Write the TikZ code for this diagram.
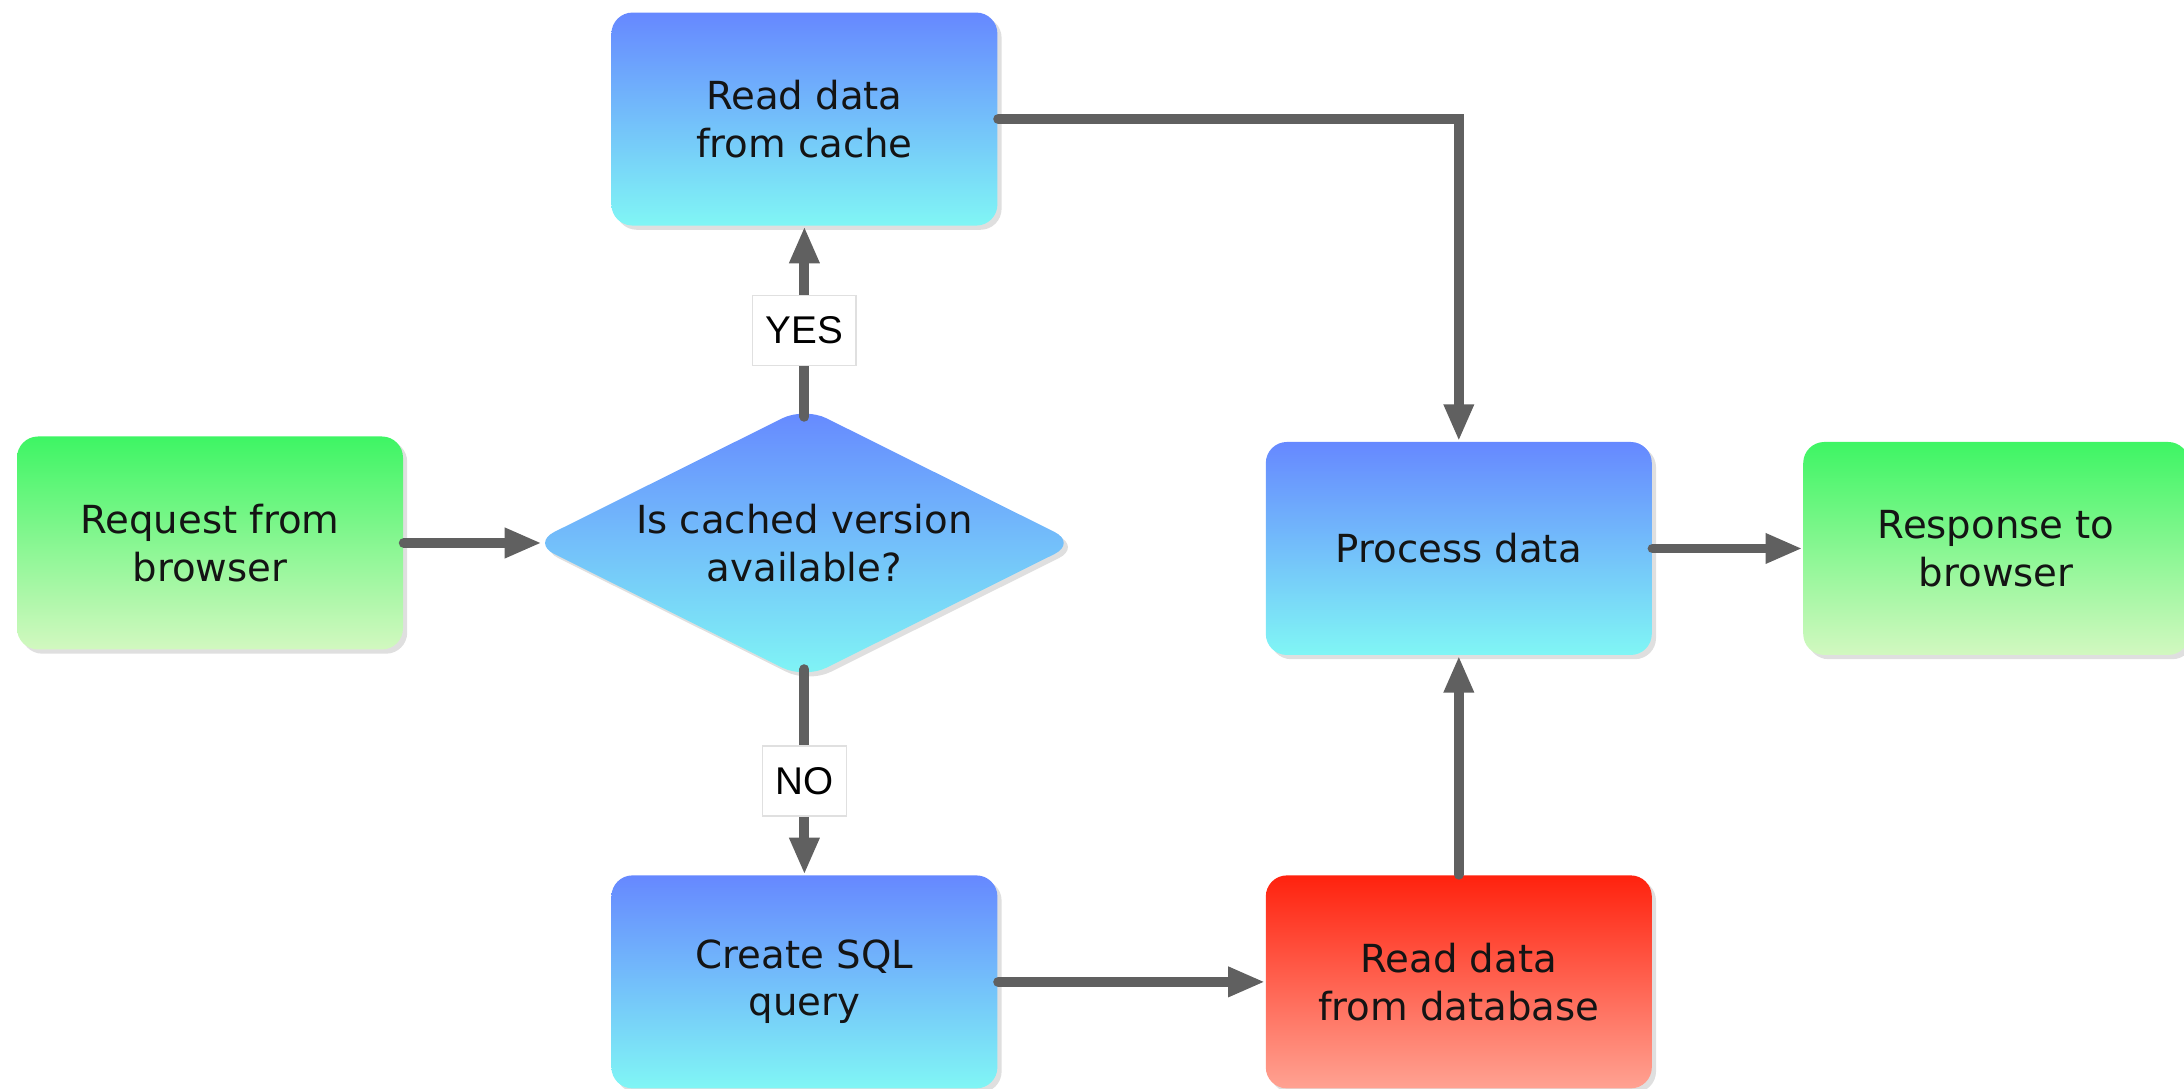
\documentclass[tikz,border=0pt]{standalone}
\usepackage{fontspec}
\setmainfont{DejaVu Sans}
\newfontfamily\labelfont{Liberation Sans}
\usetikzlibrary{positioning}
\usetikzlibrary{arrows.meta}
\usetikzlibrary{calc, shapes, shadows}
\definecolor{blueTop}{RGB}{102,136,255}
\definecolor{blueBottom}{RGB}{128,246,245}
\definecolor{greenTop}{RGB}{62,245,100}
\definecolor{greenBottom}{RGB}{210,248,192}
\definecolor{redTop}{RGB}{255,34,14}
\definecolor{redBottom}{RGB}{255,162,146}
\definecolor{lineGray}{RGB}{96,96,96}
\definecolor{textDark}{RGB}{20,20,20}
\tikzset{%
	% Specifications for style of nodes:
	base/.style = {rectangle, rounded corners=6pt, draw=none,
		minimum width=3.86cm, minimum height=2.13cm,
		align=center, text=textDark, font=\fontsize{11}{13.5}\selectfont,
		drop shadow={opacity=0.25, shadow xshift=1.2pt, shadow yshift=-1.2pt}},
	activityEnds/.style = {base, top color=greenTop, bottom color=greenBottom},
	activityRuns/.style = {base, top color=blueTop, bottom color=blueBottom},
	activityDb/.style = {base, top color=redTop, bottom color=redBottom},
	decision/.style = {base, diamond, aspect=2, rounded corners=7pt,
		minimum width=5.45cm, minimum height=2.72cm, inner sep=0pt,
		top color=blueTop, bottom color=blueBottom},
	answer/.style = {rectangle, fill=white, draw=black!12, line width=0.4pt,
		minimum height=0.7cm, inner xsep=0.13cm, font=\labelfont\fontsize{11}{13}\selectfont},
	flow/.style = {draw=lineGray, line width=2.8pt, line cap=round,
		-{Triangle[length=3.7mm, width=2.8mm]}},
}

\begin{document}
\begin{tikzpicture}
\useasboundingbox (0,0) rectangle (21.84,10.89);

\node (request) [activityEnds] at (2.10,5.46) {Request from\\browser};
\node (cached) [decision, right=1.275cm of request] {Is cached version\\available?};
\node (cache) [activityRuns, above=1.80cm of cached] {Read data\\from cache};
\node (sql) [activityRuns, below=1.95cm of cached] {Create SQL\\query};
\node (database) [activityDb, right=2.67cm of sql] {Read data\\from database};
\node (process) [activityRuns, above=2.19cm of database] {Process data};
\node (response) [activityEnds, right=1.50cm of process] {Response to\\browser};

% the rounded tips of the diamond sit a little inside its anchors
\draw[flow, shorten >=-3pt] (request) -- (cached);
\draw[flow, shorten <=-3pt] (cached.north) -- node[answer, pos=0.42] {YES} (cache.south);
\draw[flow, shorten <=-3pt] (cached.south) -- node[answer, pos=0.52] {NO} (sql.north);
\draw[flow] (cache.east) -| (process.north);
\draw[flow] (sql) -- (database);
\draw[flow] (database) -- (process);
\draw[flow] (process) -- (response);
\end{tikzpicture}
\end{document}
